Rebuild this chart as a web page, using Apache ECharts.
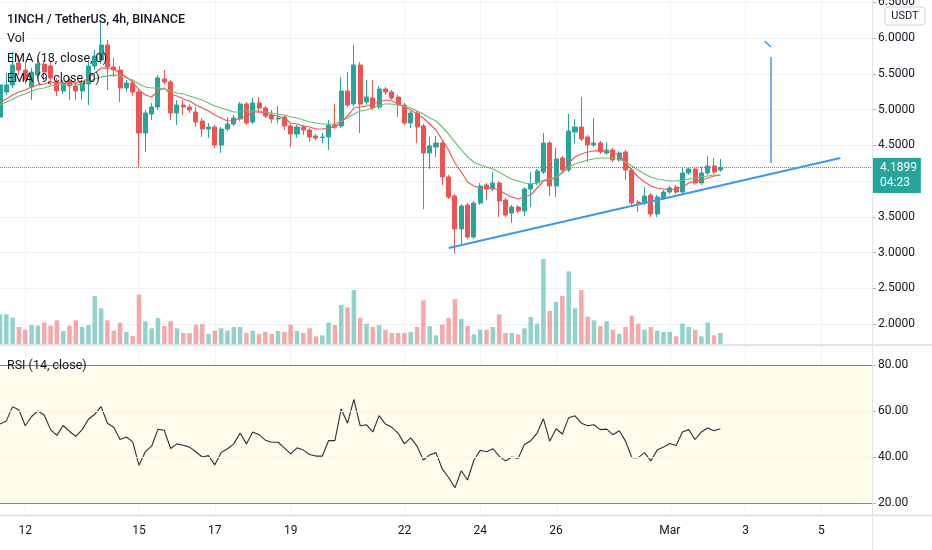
<!DOCTYPE html>
<html>
<head>
<meta charset="utf-8">
<title>1INCH / TetherUS, 4h, BINANCE</title>
<script src="https://cdn.jsdelivr.net/npm/echarts@6/dist/echarts.min.js"></script>
<style>
html, body { margin: 0; padding: 0; background: #ffffff; }
#chart { width: 932px; height: 550px; }
</style>
</head>
<body>
<div id="chart"></div>
<script>
// 4h bars, the first one opens 2021-02-11 08:00 (UTC)
var firstBar = Date.UTC(2021, 1, 11, 8);
var slotCount = 139; // bars + the empty space on the right of the last candle

var opens = [4.895,5.245,5.343,5.650,5.552,5.315,5.482,5.636,5.608,5.385,
  5.259,5.413,5.329,5.259,5.357,5.608,5.692,5.902,5.594,5.552,
  5.301,5.371,5.245,4.671,4.937,5.035,5.427,5.385,4.951,5.063,
  5.035,4.965,4.839,4.727,4.755,4.503,4.727,4.797,4.867,5.077,
  4.825,5.091,5.021,4.923,4.867,4.895,4.769,4.657,4.755,4.713,
  4.629,4.608,4.615,4.783,4.769,5.259,5.077,5.622,5.105,5.161,
  5.035,5.287,5.245,5.175,5.063,4.811,4.951,4.769,4.392,4.476,
  4.531,4.056,3.790,3.329,3.664,3.217,3.692,3.944,3.888,3.972,
  3.734,3.552,3.636,3.580,3.888,3.972,4.126,4.531,3.930,4.322,
  4.154,4.685,4.755,4.615,4.503,4.531,4.392,4.434,4.294,4.406,
  4.154,3.706,3.692,3.804,3.538,3.762,3.846,3.916,3.846,4.112,
  4.168,3.972,4.112,4.210,4.154];
var closes = [5.343,5.343,5.622,5.552,5.413,5.524,5.636,5.524,5.441,5.259,
  5.371,5.329,5.259,5.371,5.608,5.748,5.902,5.594,5.552,5.301,
  5.371,5.245,4.671,4.951,5.035,5.441,5.385,4.951,5.063,5.035,
  4.993,4.825,4.727,4.755,4.503,4.727,4.797,4.881,5.077,4.811,
  5.091,5.021,4.909,4.867,4.881,4.769,4.657,4.755,4.713,4.615,
  4.601,4.615,4.783,4.755,5.259,5.063,5.622,5.077,5.175,5.021,
  5.287,5.245,5.161,5.063,4.811,4.951,4.755,4.392,4.490,4.531,
  4.056,3.776,3.329,3.650,3.217,3.692,3.930,3.888,3.972,3.720,
  3.524,3.636,3.580,3.888,3.958,4.140,4.531,3.930,4.308,4.154,
  4.699,4.755,4.587,4.503,4.531,4.406,4.434,4.294,4.392,4.154,
  3.692,3.692,3.790,3.538,3.776,3.846,3.902,3.846,4.112,4.168,
  3.972,4.112,4.210,4.126,4.1899];
var lows = [4.853,5.203,5.301,5.482,5.357,5.133,5.441,5.413,5.343,5.189,
  5.217,5.133,5.133,5.133,5.063,5.552,5.636,5.273,5.455,5.105,
  5.245,5.189,4.196,4.406,4.853,4.993,5.343,4.853,4.783,4.923,
  4.951,4.755,4.615,4.601,4.462,4.392,4.699,4.769,4.839,4.783,
  4.797,4.951,4.881,4.811,4.811,4.713,4.476,4.601,4.643,4.545,
  4.573,4.531,4.434,4.727,4.741,5.035,5.049,4.671,5.063,4.993,
  5.007,5.203,5.133,4.895,4.783,4.741,4.531,3.608,4.168,4.336,
  3.944,3.748,2.993,3.119,3.189,3.189,3.664,3.734,3.860,3.497,
  3.497,3.413,3.552,3.511,3.636,3.944,4.098,3.790,3.776,4.126,
  4.126,4.531,4.559,4.266,4.476,4.378,4.364,4.266,4.266,4.014,
  3.664,3.566,3.664,3.497,3.497,3.734,3.818,3.818,3.818,4.084,
  3.944,3.944,4.084,4.098,4.126];
var highs = [5.385,5.510,5.804,5.762,5.664,5.580,5.720,5.692,5.664,5.441,
  5.413,5.455,5.385,5.413,5.664,5.832,6.224,5.972,5.720,5.608,
  5.413,5.413,5.273,4.993,5.091,5.482,5.552,5.413,5.133,5.133,
  5.077,5.035,4.881,4.811,4.783,4.755,4.895,4.923,5.105,5.105,
  5.161,5.175,5.049,4.993,5.049,4.923,4.797,4.783,4.783,4.741,
  4.657,4.671,4.853,5.077,5.455,5.524,5.902,5.664,5.413,5.413,
  5.329,5.315,5.273,5.203,5.091,4.979,4.979,4.797,4.615,4.629,
  4.559,4.084,3.818,3.678,3.692,3.720,3.972,3.972,4.126,4.000,
  3.762,3.664,3.664,3.916,4.126,4.168,4.671,4.559,4.462,4.350,
  4.937,4.867,5.175,4.643,4.881,4.559,4.545,4.462,4.420,4.434,
  4.182,3.734,3.916,3.832,3.804,3.874,3.930,3.944,4.196,4.196,
  4.196,4.196,4.350,4.322,4.308];
// volume, thousands of 1INCH
var volumes = [920,920,820,540,460,600,580,670,580,740,
  420,580,740,540,600,1470,1100,740,430,670,
  390,270,1510,710,500,810,570,710,500,360,
  360,610,630,330,430,500,430,540,540,360,
  430,330,390,330,420,390,610,420,360,500,
  260,290,670,600,1200,1130,1650,810,640,540,
  600,460,360,360,360,390,540,1340,570,290,
  610,810,1380,780,570,320,460,460,540,920,
  360,360,320,500,840,640,2580,1020,1290,1470,
  2210,1100,1650,850,740,570,710,460,330,540,
  880,640,460,540,430,390,390,260,640,540,
  460,260,670,290,360];
var ema9 = [5.105,5.147,5.203,5.245,5.273,5.315,5.343,5.357,5.385,5.371,
  5.371,5.371,5.371,5.385,5.441,5.510,5.580,5.580,5.566,5.510,
  5.455,5.385,5.273,5.203,5.175,5.259,5.301,5.217,5.189,5.147,
  5.119,5.063,5.021,4.979,4.923,4.881,4.839,4.839,4.881,4.909,
  4.965,4.965,4.951,4.923,4.909,4.881,4.811,4.797,4.769,4.755,
  4.727,4.727,4.741,4.755,4.825,4.909,5.021,5.035,5.049,5.077,
  5.105,5.133,5.119,5.077,5.035,4.993,4.937,4.881,4.797,4.713,
  4.573,4.434,4.252,4.126,3.986,3.930,3.902,3.902,3.902,3.874,
  3.818,3.776,3.748,3.776,3.804,3.902,4.000,4.014,4.042,4.126,
  4.252,4.336,4.378,4.406,4.420,4.420,4.420,4.392,4.364,4.252,
  4.154,4.056,3.986,3.930,3.902,3.888,3.874,3.888,3.916,3.972,
  4.000,4.014,4.042,4.070,4.084];
var ema18 = [5.063,5.105,5.147,5.189,5.217,5.259,5.287,5.301,5.329,5.343,
  5.343,5.343,5.343,5.357,5.385,5.427,5.455,5.469,5.482,5.469,
  5.441,5.413,5.357,5.315,5.301,5.301,5.287,5.259,5.231,5.217,
  5.189,5.161,5.133,5.091,5.049,5.021,4.993,4.965,4.965,4.979,
  4.979,4.979,4.965,4.951,4.937,4.923,4.895,4.881,4.853,4.825,
  4.811,4.797,4.797,4.797,4.839,4.881,4.937,4.979,4.993,5.021,
  5.063,5.077,5.077,5.063,5.049,5.021,4.979,4.937,4.881,4.839,
  4.755,4.657,4.545,4.434,4.336,4.266,4.224,4.196,4.168,4.126,
  4.070,4.028,4.000,3.972,3.958,3.972,4.014,4.028,4.056,4.112,
  4.196,4.238,4.266,4.294,4.308,4.322,4.322,4.322,4.308,4.266,
  4.210,4.154,4.098,4.056,4.028,4.014,4.000,4.000,4.014,4.028,
  4.042,4.056,4.070,4.084,4.084];
var rsi14 = [54.3,55.7,61.9,60.4,53.6,57.6,60.0,58.3,51.9,49.4,
  53.7,51.1,49.0,51.9,56.4,58.6,61.9,54.7,52.9,47.6,
  48.7,46.6,36.4,42.3,44.7,52.1,51.6,43.7,45.7,45.1,
  44.3,42.3,40.0,40.6,36.6,41.9,43.6,45.7,50.4,45.7,
  50.9,49.7,47.3,46.4,46.4,44.0,41.4,44.0,43.0,41.1,
  40.4,40.4,47.1,47.1,60.9,54.7,65.1,53.6,54.0,50.9,
  58.0,54.3,52.9,50.4,45.7,48.3,44.7,38.7,40.9,41.9,
  34.7,31.1,26.6,34.0,30.0,38.7,42.9,42.3,43.6,40.4,
  38.3,40.0,39.4,45.4,47.1,50.4,56.6,46.9,52.3,50.0,
  57.1,57.9,54.7,53.6,54.0,51.9,52.1,49.7,51.4,46.9,
  39.7,39.7,41.9,38.3,43.0,44.3,45.9,45.0,50.9,51.9,
  47.6,50.9,52.6,51.4,52.3];

var tickDates = ['2021-02-12 00:00','2021-02-15 00:00','2021-02-17 00:00','2021-02-19 00:00',
  '2021-02-22 00:00','2021-02-24 00:00','2021-02-26 00:00','2021-03-01 00:00',
  '2021-03-03 00:00','2021-03-05 00:00'];
var tickLabels = ['12','15','17','19','22','24','26','Mar','3','5'];
var priceTicks = [2, 2.5, 3, 3.5, 4, 4.5, 5, 5.5, 6, 6.5];
var rsiTicks = [20, 40, 60, 80];

// drawings on the chart
var trendLine = [['2021-02-23 04:00', 3.063], ['2021-03-05 12:00', 4.322]];
var rulerLine = [['2021-03-03 16:00', 5.734], ['2021-03-03 16:00', 4.252]];
var rulerHook = [['2021-03-03 12:00', 5.958], ['2021-03-03 16:00', 5.874]];
var lastPrice = 4.1899;
var countdown = '04:23';

var UP = '#26a69a', DOWN = '#ef5350';
var GRID = '#f0f3fa', SEP = '#e0e3eb', TXT = '#131722';
var FONT = 'Roboto, "Noto Sans", sans-serif';

function pad(n) { return (n < 10 ? '0' : '') + n; }
function fmtTime(t) {
  var d = new Date(t);
  return d.getUTCFullYear() + '-' + pad(d.getUTCMonth() + 1) + '-' + pad(d.getUTCDate()) +
    ' ' + pad(d.getUTCHours()) + ':00';
}
var times = [];
for (var k = 0; k < slotCount; k++) times.push(fmtTime(firstBar + k * 4 * 3600 * 1000));

var labelOf = {};
tickDates.forEach(function (d, i) { labelOf[d] = tickLabels[i]; });
function isTick(index, value) { return labelOf.hasOwnProperty(value); }

var candles = opens.map(function (o, i) { return [o, closes[i], lows[i], highs[i]]; });
var volData = volumes.map(function (v, i) {
  var c = closes[i] >= opens[i] ? UP : DOWN;
  return { value: v, itemStyle: { color: c, opacity: 0.5 } };
});
function seg(pair, style) {
  return [{ coord: pair[0], lineStyle: style }, { coord: pair[1], lineStyle: style }];
}
var drawStyle = { color: '#3d9ae8', width: 2, type: 'solid' };
var thinDraw = { color: '#3d9ae8', width: 1.5, type: 'solid' };

function legendText(y, text, weight) {
  return { type: 'text', x: 7, y: y, z: 100, silent: true,
    style: { text: text, fill: TXT, font: (weight || '') + ' 12.5px ' + FONT, textVerticalAlign: 'middle' } };
}

var dom = document.getElementById('chart');
var myChart = echarts.init(dom);
var option = {
  animation: false,
  textStyle: { fontFamily: FONT },
  grid: [
    { left: 0, right: 60, top: 0, height: 345, outerBoundsMode: 'none' },          // volume
    { left: 0, right: 60, top: 2.25, height: 357.5, outerBoundsMode: 'none' },     // price
    { left: 0, right: 60, top: 342, height: 172.5, outerBoundsMode: 'none' }       // rsi
  ],
  xAxis: [
    { type: 'category', gridIndex: 0, data: times, boundaryGap: false,
      axisLine: { show: false }, axisTick: { show: false }, axisLabel: { show: false },
      splitLine: { show: true, interval: isTick, lineStyle: { color: GRID, width: 1 } } },
    { type: 'category', gridIndex: 1, data: times, boundaryGap: false,
      axisLine: { show: false }, axisTick: { show: false }, axisLabel: { show: false },
      splitLine: { show: false } },
    { type: 'category', gridIndex: 2, data: times, boundaryGap: false,
      axisLine: { show: false }, axisTick: { show: false },
      axisLabel: { show: true, interval: isTick, color: TXT, fontSize: 12, margin: 10,
        formatter: function (v) { return labelOf[v] || ''; } },
      splitLine: { show: true, interval: isTick, lineStyle: { color: GRID, width: 1 } } }
  ],
  yAxis: [
    { type: 'value', gridIndex: 0, min: 0, max: 10350, show: false },
    { type: 'value', gridIndex: 1, position: 'right', min: 1.5, max: 6.5, interval: 0.5,
      axisLine: { show: false },
      axisTick: { show: true, length: 4, lineStyle: { color: '#b2b5be' } },
      axisLabel: { color: TXT, fontSize: 12, margin: 6, showMinLabel: false,
        formatter: function (v) { return priceTicks.indexOf(v) >= 0 ? v.toFixed(4) : ''; } },
      splitLine: { show: true, showMinLine: false, lineStyle: { color: GRID, width: 1 } } },
    { type: 'value', gridIndex: 2, position: 'right', min: 15, max: 90,
      axisLine: { show: false },
      axisTick: { show: true, length: 4, customValues: rsiTicks, lineStyle: { color: '#b2b5be' } },
      axisLabel: { color: TXT, fontSize: 12, margin: 6, customValues: rsiTicks,
        formatter: function (v) { return rsiTicks.indexOf(v) >= 0 ? v.toFixed(2) : ''; } },
      splitLine: { show: false } }
  ],
  series: [
    { name: 'Vol', type: 'bar', xAxisIndex: 0, yAxisIndex: 0, barWidth: '72%',
      data: volData, silent: true },
    { name: '1INCHUSDT', type: 'candlestick', xAxisIndex: 1, yAxisIndex: 1, barWidth: '72%',
      data: candles, silent: true,
      itemStyle: { color: UP, color0: DOWN, borderColor: UP, borderColor0: DOWN, borderWidth: 1 },
      markLine: {
        silent: true, symbol: ['none', 'none'], animation: false,
        label: { show: false },
        data: [
          { yAxis: lastPrice,
            lineStyle: { type: 'dotted', color: UP, width: 1 },
            label: { show: true, position: 'end', distance: 0, offset: [0, 8],
              formatter: lastPrice.toFixed(4) + '\n' + countdown,
              backgroundColor: UP, color: '#ffffff', fontSize: 12, lineHeight: 15,
              padding: [3, 4, 2, 8], align: 'left' } },
          seg(trendLine, drawStyle),
          seg(rulerLine, thinDraw),
          seg(rulerHook, thinDraw)
        ]
      } },
    { name: 'EMA 9', type: 'line', xAxisIndex: 1, yAxisIndex: 1, data: ema9,
      showSymbol: false, silent: true, lineStyle: { color: '#f0585c', width: 1.2 } },
    { name: 'EMA 18', type: 'line', xAxisIndex: 1, yAxisIndex: 1, data: ema18,
      showSymbol: false, silent: true, lineStyle: { color: '#6cbf6f', width: 1.2 } },
    { name: 'RSI', type: 'line', xAxisIndex: 2, yAxisIndex: 2, data: rsi14,
      showSymbol: false, silent: true, lineStyle: { color: '#2a2e39', width: 1.1 },
      markArea: { silent: true, itemStyle: { color: '#fefdec' },
        data: [[{ yAxis: 80 }, { yAxis: 20 }]] },
      markLine: { silent: true, symbol: ['none', 'none'], label: { show: false },
        data: [
          { yAxis: 60, lineStyle: { color: GRID, width: 1, type: 'solid' } },
          { yAxis: 40, lineStyle: { color: GRID, width: 1, type: 'solid' } },
          { yAxis: 80, lineStyle: { color: DOWN, width: 1, type: 'solid' } },
          { yAxis: 20, lineStyle: { color: '#4caf50', width: 1, type: 'solid' } }
        ] } }
  ],
  graphic: [
    { type: 'line', z: 90, shape: { x1: 0, y1: 345, x2: 932, y2: 345 }, style: { stroke: SEP, lineWidth: 2 }, silent: true },
    { type: 'line', z: 90, shape: { x1: 0, y1: 515.5, x2: 932, y2: 515.5 }, style: { stroke: SEP, lineWidth: 2 }, silent: true },
    { type: 'line', z: 90, shape: { x1: 872.5, y1: 0, x2: 872.5, y2: 550 }, style: { stroke: SEP, lineWidth: 1 }, silent: true },
    { type: 'rect', z: 100, shape: { x: 885, y: 7, width: 40, height: 18, r: 3 },
      style: { fill: '#ffffff', stroke: '#d1d4dc', lineWidth: 1 }, silent: true },
    { type: 'text', z: 101, x: 905, y: 16, style: { text: 'USDT', fill: TXT, font: '11px ' + FONT,
      textAlign: 'center', textVerticalAlign: 'middle' }, silent: true },
    legendText(19.5, '1INCH / TetherUS, 4h, BINANCE', '500'),
    legendText(39, 'Vol'),
    legendText(59, 'EMA (18, close, 0)'),
    legendText(79, 'EMA (9, close, 0)'),
    legendText(366, 'RSI (14, close)')
  ]
};
myChart.setOption(option);
window.addEventListener('resize', function () { myChart.resize(); });
</script>
</body>
</html>
